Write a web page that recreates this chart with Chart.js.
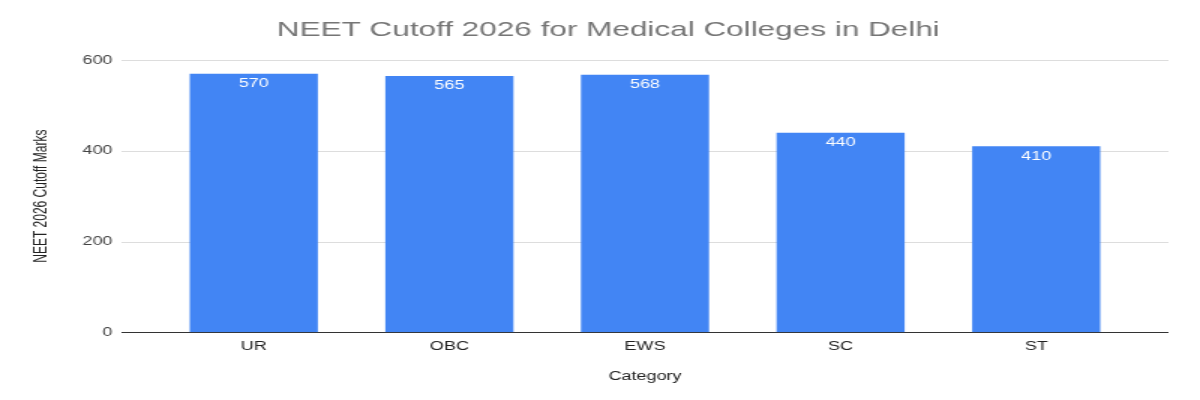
<!DOCTYPE html>
<html>
<head>
<meta charset="utf-8">
<script src="https://cdn.jsdelivr.net/npm/chart.js@4"></script>
<style>
  html, body { margin: 0; padding: 0; background: #fff; overflow: hidden; }
  /* the source image is a stretched Google chart, so draw at 800 wide and show it at 1200 */
  #cutoffChart { display: block; width: 1200px; height: 400px; }
</style>
</head>
<body>
<canvas id="cutoffChart" width="800" height="400" style="width:1200px;height:400px"></canvas>
<script>
const categories = ['UR', 'OBC', 'EWS', 'SC', 'ST'];
const cutoffMarks = [570, 565, 568, 440, 410];
const yTicks = [0, 200, 400, 600];

const FONT = 'Arial, "Liberation Sans", sans-serif';

// gridlines run wider than the category band, like the original
const wideGrid = {
  id: 'wideGrid',
  beforeDatasetsDraw(chart) {
    const c = chart.ctx;
    const y = chart.scales.y;
    const x1 = 81, x2 = 779;
    c.save();
    c.lineWidth = 1;
    yTicks.forEach(v => {
      const py = Math.round(y.getPixelForValue(v)) + 0.5;
      c.strokeStyle = v === 0 ? '#333333' : '#dddddd';
      c.beginPath();
      c.moveTo(x1, py);
      c.lineTo(x2, py);
      c.stroke();
    });
    c.restore();
  }
};

// white value labels just inside the top of each bar
const barLabels = {
  id: 'barLabels',
  afterDatasetsDraw(chart) {
    const c = chart.ctx;
    const meta = chart.getDatasetMeta(0);
    c.save();
    c.fillStyle = '#ffffff';
    c.font = '12px ' + FONT;
    c.textAlign = 'center';
    c.textBaseline = 'top';
    meta.data.forEach((bar, i) => {
      c.fillText(String(cutoffMarks[i]), bar.x, bar.y + 4);
    });
    c.restore();
  }
};

const ctx = document.getElementById('cutoffChart').getContext('2d');
new Chart(ctx, {
  type: 'bar',
  data: {
    labels: categories,
    datasets: [{
      label: 'NEET 2026 Cutoff Marks',
      data: cutoffMarks,
      backgroundColor: '#4285f4',
      borderWidth: 0,
      categoryPercentage: 0.655,
      barPercentage: 1.0
    }]
  },
  options: {
    responsive: false,
    animation: false,
    layout: { padding: { left: 11, right: 0, top: 0, bottom: 16 } },
    scales: {
      y: {
        min: 0,
        max: 600,
        afterBuildTicks(axis) {
          axis.ticks = yTicks.map(v => ({ value: v }));
        },
        afterFit(axis) { axis.width = 93; },
        border: { display: false },
        grid: { display: false, drawTicks: false },
        ticks: {
          padding: 29,
          color: '#444444',
          font: { family: FONT, size: 12 }
        },
        title: {
          display: true,
          text: 'NEET 2026 Cutoff Marks',
          color: '#222222',
          padding: { top: 9, bottom: 0 },
          font: { family: FONT, size: 12 }
        }
      },
      // empty spacer on the right so the bars sit inside the wider gridlines
      spacer: {
        position: 'right',
        display: true,
        min: 0,
        max: 1,
        afterFit(axis) { axis.width = 44; },
        border: { display: false },
        grid: { display: false, drawTicks: false },
        ticks: { display: false }
      },
      x: {
        border: { display: false },
        grid: { display: false, drawTicks: false },
        ticks: {
          padding: 7,
          color: '#222222',
          font: { family: FONT, size: 12 }
        },
        title: {
          display: true,
          text: 'Category',
          color: '#222222',
          padding: { top: 9, bottom: 0 },
          font: { family: FONT, size: 12 }
        }
      }
    },
    plugins: {
      legend: { display: false },
      tooltip: { enabled: false },
      title: {
        display: true,
        text: 'NEET Cutoff 2026 for Medical Colleges in Delhi',
        color: '#757575',
        padding: { top: 18, bottom: 17 },
        font: { family: FONT, size: 21, weight: 'normal' }
      }
    }
  },
  plugins: [wideGrid, barLabels]
});
</script>
</body>
</html>
